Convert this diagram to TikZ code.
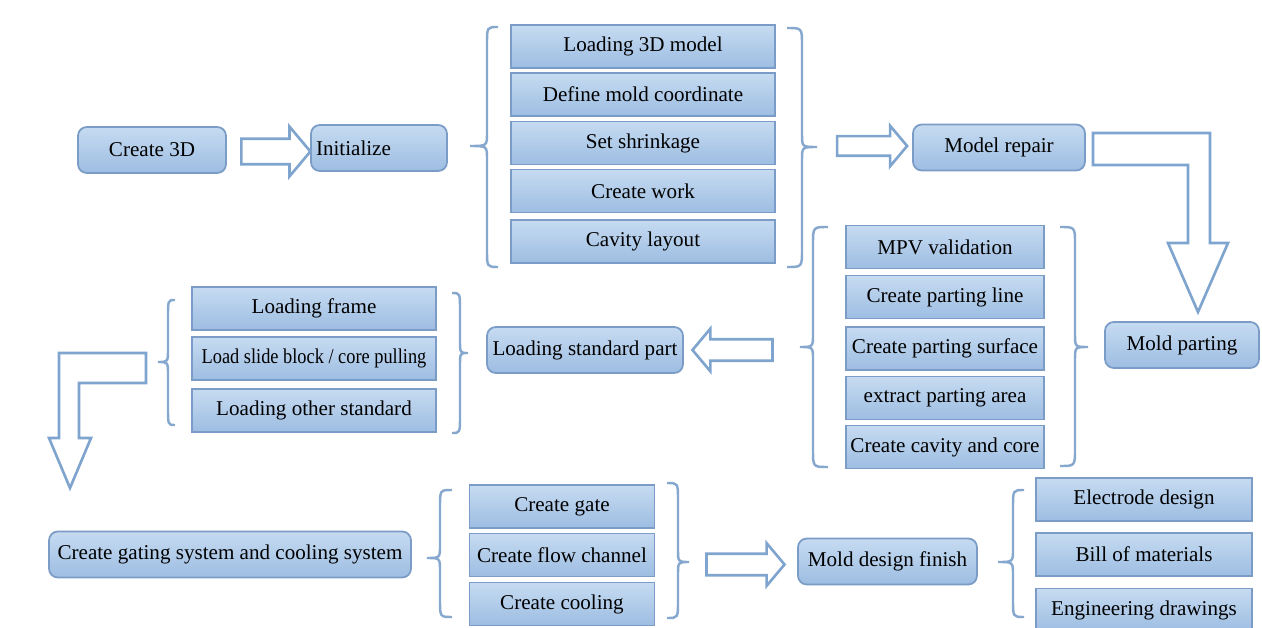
\documentclass[tikz,border=0pt]{standalone}
\usepackage{fontspec}
\setmainfont{Liberation Serif}
\usetikzlibrary{shapes.arrows}

\definecolor{boxtop}{HTML}{C6DBF1}
\definecolor{boxbot}{HTML}{9DBDE2}
\definecolor{boxline}{HTML}{7A9CC6}
\definecolor{arrline}{HTML}{7FA4CE}
\definecolor{braceline}{HTML}{86A8CF}

\tikzset{
  roundbox/.style={draw=boxline,line width=1pt,rounded corners=5pt,top color=boxtop,bottom color=boxbot,inner sep=0pt,minimum height=0.92cm,font=\fontsize{12}{14}\selectfont},
  listbox/.style={roundbox,sharp corners,minimum height=0.86cm},
  blockarrow/.style={draw=arrline,fill=white,line width=1.5pt,line join=miter},
  flatarrow/.style={blockarrow,single arrow,single arrow tip angle=100,inner xsep=0pt},
  bracket/.style={draw=braceline,line width=1.4pt}
}

\newcommand{\wbrace}[6]{\draw[bracket] (#1,#4) .. controls (#2,#4) .. (#2,#4+17) -- (#2,#5-13) .. controls (#2,#5) .. (#3,#5) .. controls (#2,#5) .. (#2,#5+13) -- (#2,#6-17) .. controls (#2,#6) .. (#1,#6);}

\begin{document}
\begin{tikzpicture}[x=0.02cm,y=-0.02cm]
\useasboundingbox (0,0) rectangle (1262,628);

\node (create3d) at (152,150) [roundbox,minimum width=2.96cm] {Create 3D};
\node (init) at (379,148) [roundbox,minimum width=2.72cm,text width=2.52cm,align=left] {Initialize};

\node (load3d) at (643,46.5) [listbox,minimum width=5.28cm] {Loading 3D model};
\node (moldcoord) at (643,94.5) [listbox,minimum width=5.28cm] {Define mold coordinate};
\node (shrink) at (643,143) [listbox,minimum width=5.28cm] {Set shrinkage};
\node (work) at (643,191) [listbox,minimum width=5.28cm] {Create work};
\node (cavlayout) at (643,241.5) [listbox,minimum width=5.28cm] {Cavity layout};

\node (repair) at (999,147.5) [roundbox,minimum width=3.44cm] {Model repair};
\node (parting) at (1182,345) [roundbox,minimum width=3.08cm] {Mold parting};

\node (mpv) at (945,247) [listbox,minimum width=3.96cm] {MPV validation};
\node (pline) at (945,297) [listbox,minimum width=3.96cm] {Create parting line};
\node (psurf) at (945,348.5) [listbox,minimum width=3.96cm] {Create parting surface};
\node (parea) at (945,398) [listbox,minimum width=3.96cm] {extract parting area};
\node (cavcore) at (945,447) [listbox,minimum width=3.96cm] {Create cavity and core};

\node (stdpart) at (585,350) [roundbox,minimum width=3.92cm] {Loading standard part};

\node (frame) at (314,308.5) [listbox,minimum width=4.88cm] {Loading frame};
\node (slide) at (314,358.5) [listbox,minimum width=4.88cm] {\scalebox{0.87}[1]{Load slide block / core pulling}};
\node (otherstd) at (314,410.5) [listbox,minimum width=4.88cm] {Loading other standard};

\node (gating) at (230,554.5) [roundbox,minimum width=7.24cm] {Create gating system and cooling system};

\node (gate) at (562,506.5) [listbox,minimum width=3.7cm] {Create gate};
\node (flow) at (562,555) [listbox,minimum width=3.7cm] {Create flow channel};
\node (cooling) at (562,604) [listbox,minimum width=3.7cm] {Create cooling};

\node (finish) at (887.5,561.5) [roundbox,minimum width=3.58cm] {Mold design finish};

\node (electrode) at (1144,499.5) [listbox,minimum width=4.32cm] {Electrode design};
\node (bom) at (1144,554.5) [listbox,minimum width=4.32cm] {Bill of materials};
\node (drawings) at (1144,610) [listbox,minimum width=4.32cm] {Engineering drawings};

\node (a1) at (270.5,151.5) [flatarrow,minimum height=1.38cm,inner ysep=0.23cm,single arrow head extend=0.24cm] {};
\node (a2) at (868,146) [flatarrow,minimum height=1.4cm,inner ysep=0.17cm,single arrow head extend=0.21cm] {};
\node (a3) at (737,350) [flatarrow,shape border rotate=180,minimum height=1.6cm,inner ysep=0.19cm,single arrow head extend=0.21cm] {};
\node (a4) at (741,564.5) [flatarrow,minimum height=1.56cm,inner ysep=0.19cm,single arrow head extend=0.21cm] {};

\draw [blockarrow] (1093,133) -- (1210,133) -- (1210,243) -- (1228,243) -- (1198,312) -- (1168,243) -- (1188,243) -- (1188,165) -- (1093,165) -- cycle;
\draw [blockarrow] (146,353) -- (59,353) -- (59,438) -- (49,438) -- (70,488) -- (91,438) -- (79,438) -- (79,383) -- (146,383) -- cycle;

\wbrace{498}{487}{470}{27}{146}{267}
\wbrace{787}{802}{817}{28}{147}{267}
\wbrace{828}{813}{800}{227}{347}{467}
\wbrace{1060}{1075}{1088}{227}{347}{466}
\wbrace{175}{168}{158}{300}{362}{425}
\wbrace{452}{460}{468}{293}{353}{433}
\wbrace{452}{440}{427}{490}{558}{617}
\wbrace{667}{678}{689}{483}{562}{618}
\wbrace{1024}{1013}{998}{490}{562}{617}

\end{tikzpicture}
\end{document}
